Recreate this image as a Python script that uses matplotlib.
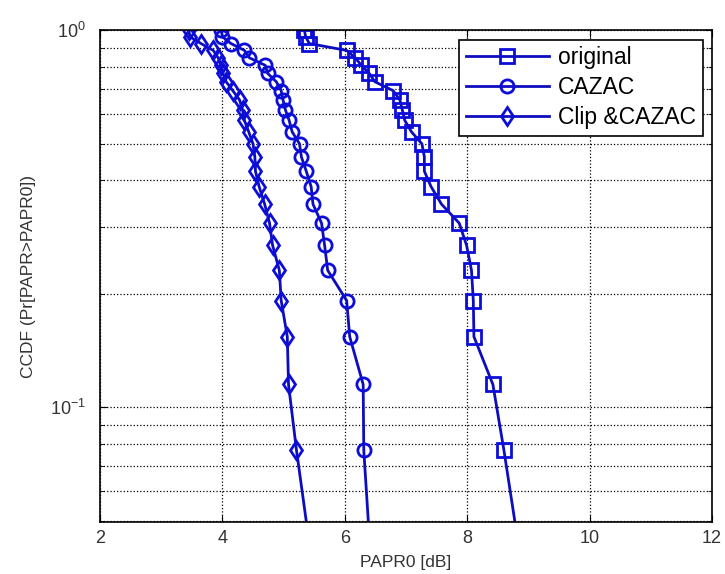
import matplotlib
matplotlib.use('Agg')
import matplotlib.pyplot as plt
from matplotlib.ticker import LogLocator, NullFormatter

plt.rcParams['font.family'] = ['Liberation Sans', 'DejaVu Sans']

# CCDF levels shared by all three curves (last one falls below the axis)
ccdf = [1.000, 0.962, 0.923, 0.885, 0.846, 0.808, 0.769, 0.731, 0.692,
        0.654, 0.615, 0.577, 0.538, 0.500, 0.462, 0.423, 0.385, 0.346,
        0.308, 0.269, 0.231, 0.192, 0.154, 0.115, 0.077, 0.038]

papr_original = [5.34, 5.36, 5.42, 6.03, 6.17, 6.27, 6.40, 6.49, 6.79,
                 6.90, 6.94, 6.98, 7.09, 7.26, 7.30, 7.30, 7.41, 7.58,
                 7.87, 7.99, 8.07, 8.10, 8.11, 8.42, 8.60, 8.89]
papr_cazac = [3.98, 4.00, 4.14, 4.36, 4.44, 4.70, 4.74, 4.88, 4.96,
              4.99, 5.03, 5.09, 5.14, 5.26, 5.29, 5.37, 5.45, 5.48,
              5.62, 5.67, 5.72, 6.03, 6.08, 6.30, 6.31, 6.43]
papr_clip = [3.45, 3.47, 3.65, 3.85, 3.93, 3.98, 4.01, 4.06, 4.17,
             4.28, 4.33, 4.36, 4.43, 4.50, 4.53, 4.54, 4.60, 4.69,
             4.77, 4.82, 4.93, 4.96, 5.06, 5.08, 5.21, 5.47]

labels = ['original', 'CAZAC', 'Clip &CAZAC']
xticks = [2, 4, 6, 8, 10, 12]

color = (0.05, 0.05, 0.75)

fig = plt.figure(figsize=(7.25, 5.74), dpi=100)
ax = fig.add_axes([0.138, 0.091, 0.844, 0.856])

style = dict(color=color, linewidth=2, markersize=9.5, markeredgewidth=2,
             markerfacecolor='none', markeredgecolor=(0.05, 0.05, 0.85))
ax.semilogy(papr_original, ccdf, marker='s', label=labels[0], **style)
ax.semilogy(papr_cazac, ccdf, marker='o', label=labels[1], **style)
ax.semilogy(papr_clip, ccdf, marker='d', label=labels[2], **style)

ax.set_xlim(2, 12)
ax.set_ylim(0.0497, 1)
ax.set_xticks(xticks)
ax.yaxis.set_major_locator(LogLocator(base=10))
ax.yaxis.set_minor_locator(LogLocator(base=10, subs=range(2, 10)))
ax.yaxis.set_minor_formatter(NullFormatter())

ax.grid(True, which='major', linestyle=':', color='black', linewidth=0.9)
ax.grid(True, which='minor', axis='y', linestyle=':', color='black', linewidth=0.9)

ax.tick_params(which='both', direction='in', top=True, right=True,
               labelsize=13, colors='black')
ax.tick_params(which='major', length=5)
ax.tick_params(which='minor', length=3)
ax.tick_params(axis='y', pad=10)
ax.tick_params(axis='x', pad=6)
for lab in ax.get_xticklabels() + ax.get_yticklabels():
    lab.set_color('#333333')
for s in ax.spines.values():
    s.set_linewidth(1.2)

ax.set_xlabel('PAPR0 [dB]', fontsize=12.5, color='#333333', labelpad=6)
ax.set_ylabel('CCDF (Pr[PAPR>PAPR0])', fontsize=12.5, color='#333333', labelpad=10)

leg = ax.legend(loc='upper right', fontsize=16.5, frameon=True, fancybox=False,
                edgecolor='black', framealpha=1, borderaxespad=0.4,
                handlelength=3.6, labelspacing=0.3, borderpad=0.3,
                handletextpad=0.4)
leg.get_frame().set_linewidth(1.2)

fig.savefig('out.png', dpi=100)
